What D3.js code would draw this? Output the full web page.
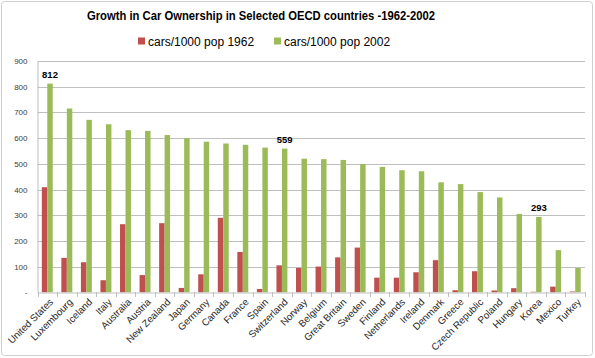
<!DOCTYPE html>
<html>
<head>
<meta charset="utf-8">
<script src="https://cdn.jsdelivr.net/npm/d3@7"></script>
<style>
  html, body { margin: 0; padding: 0; background: #fff; }
  svg { display: block; }
  text { font-family: "Liberation Sans", Arial, sans-serif; }
</style>
</head>
<body>
<svg id="chart" width="595" height="358"></svg>
<script>
const countries = ["United States","Luxembourg","Iceland","Italy","Australia","Austria","New Zealand","Japan","Germany","Canada","France","Spain","Switzerland","Norway","Belgium","Great Britain","Sweden","Finland","Netherlands","Ireland","Denmark","Greece","Czech Republic","Poland","Hungary","Korea","Mexico","Turkey"];
const cars1962 = [409,134,117,47,265,67,269,17,70,290,157,13,105,95,100,136,174,57,57,78,125,8,82,7,16,2,22,3];
const cars2002 = [812,715,671,654,631,628,612,600,586,579,574,563,559,520,518,515,499,488,475,471,428,421,390,369,305,293,164,95];
const seriesNames = ["cars/1000 pop 1962","cars/1000 pop 2002"];
const seriesKeys = ["y1962","y2002"];
const colors = ["#c0504d","#9bbb59"];
const yTicks = [0,100,200,300,400,500,600,700,800,900];
const labelled = ["United States","Switzerland","Korea"];
const title = "Growth in Car Ownership in Selected OECD countries -1962-2002";

const data = countries.map((c,i)=>({country:c, y1962:cars1962[i], y2002:cars2002[i]}));

const svg = d3.select("#chart");
// outer border
svg.append("rect").attr("x",1.5).attr("y",1.5).attr("width",591).attr("height",354)
  .attr("rx",3).attr("fill","#fff").attr("stroke","#d0d0d0").attr("stroke-width",1);

const pLeft = 37.5, pRight = 585, pTop = 61, pBottom = 292.3;
const x = d3.scaleBand().domain(countries).range([pLeft,pRight]).paddingInner(0).paddingOuter(0);
const bw = x.bandwidth();
const inner = d3.scaleBand().domain(seriesKeys).range([bw*0.22, bw*0.78]);
const y = d3.scaleLinear().domain([0,900]).range([pBottom, pTop]);

// gridlines
svg.append("g").selectAll("line").data(yTicks.filter(t=>t>0)).join("line")
  .attr("x1",pLeft).attr("x2",pRight)
  .attr("y1",d=>Math.round(y(d))+0.5).attr("y2",d=>Math.round(y(d))+0.5)
  .attr("stroke","#bfbfbf").attr("stroke-width",1);

// y axis
const yAxis = d3.axisLeft(y).tickValues(yTicks).tickSize(0).tickPadding(10)
  .tickFormat(d=> d===0 ? "-" : d3.format("d")(d));
const gy = svg.append("g").attr("transform",`translate(${pLeft},0)`).call(yAxis);
gy.select(".domain").attr("stroke","#bfbfbf");
gy.selectAll("text").attr("font-size","8px").attr("fill","#404040")
  .attr("font-family","'Liberation Sans', Arial, sans-serif");

// bars
const groups = svg.append("g").selectAll("g").data(data).join("g")
  .attr("transform",d=>`translate(${x(d.country)},0)`);
groups.selectAll("rect").data(d=>seriesKeys.map((k,i)=>({k, i, v:d[k]}))).join("rect")
  .attr("x",d=>inner(d.k)).attr("width",inner.bandwidth())
  .attr("y",d=>y(d.v)).attr("height",d=>y(0)-y(d.v))
  .attr("fill",d=>colors[d.i]);

// x axis
const xAxis = d3.axisBottom(x).tickSize(0).tickFormat("");
const gx = svg.append("g").attr("transform",`translate(0,${Math.round(pBottom)+0.5})`).call(xAxis);
gx.select(".domain").attr("stroke","#bfbfbf");
// tick marks at category boundaries
svg.append("g").selectAll("line").data(countries.concat(["__end"])).join("line")
  .attr("x1",(d,i)=>Math.round(pLeft + i*bw)+0.5).attr("x2",(d,i)=>Math.round(pLeft + i*bw)+0.5)
  .attr("y1",Math.round(pBottom)).attr("y2",Math.round(pBottom)+5)
  .attr("stroke","#bfbfbf");

// x labels
svg.append("g").selectAll("text").data(countries).join("text")
  .attr("transform",d=>`translate(${x(d)+bw/2+4},${pBottom+8}) rotate(-45)`)
  .attr("text-anchor","end").attr("dy","0.35em")
  .attr("font-size","9.8px").attr("fill","#262626")
  .text(d=>d);

// data labels
svg.append("g").selectAll("text").data(data.filter(d=>labelled.includes(d.country))).join("text")
  .attr("x",d=>x(d.country)+inner("y2002")+inner.bandwidth()/2)
  .attr("y",d=>y(d.y2002)-6)
  .attr("text-anchor","middle").attr("font-size","9.5px").attr("font-weight","bold")
  .attr("fill","#000").text(d=>d.y2002);

// title
svg.append("text").attr("x",261).attr("y",19.5).attr("text-anchor","middle")
  .attr("font-size","13px").attr("font-weight","bold").attr("fill","#000")
  .attr("textLength",348).attr("lengthAdjust","spacingAndGlyphs")
  .text(title);

// legend
const legendX = [138, 274];
const lg = svg.append("g").selectAll("g").data(seriesNames).join("g")
  .attr("transform",(d,i)=>`translate(${legendX[i]},0)`);
lg.append("rect").attr("x",0).attr("y",37.5).attr("width",7).attr("height",7)
  .attr("fill",(d,i)=>colors[i]);
lg.append("text").attr("x",10).attr("y",45.5).attr("font-size","12px").attr("fill","#000")
  .text(d=>d);
</script>
</body>
</html>
